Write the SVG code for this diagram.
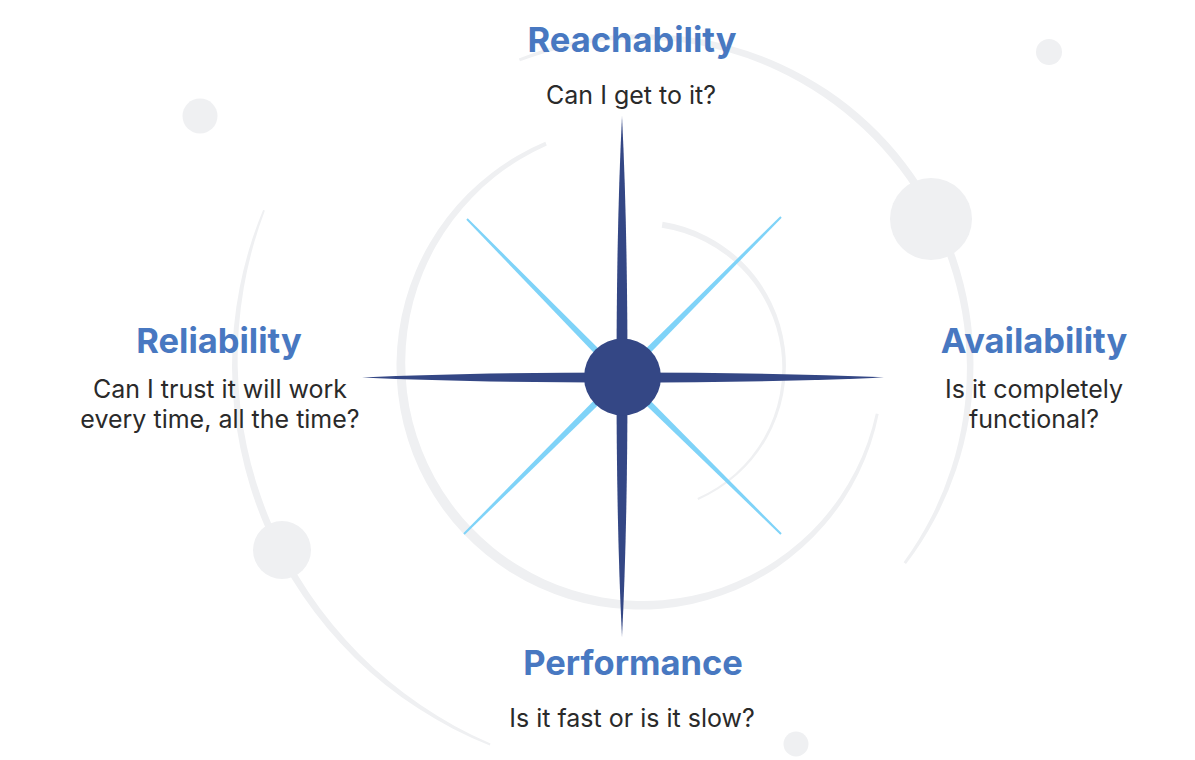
<svg xmlns="http://www.w3.org/2000/svg" width="1195" height="760" viewBox="0 0 1195 760">
<style>
.bg{fill:#eff0f2}
.spoke{fill:#7fd3f8}
.navy{fill:#344785}
.title{font-family:Inter,"Noto Sans","Liberation Sans",sans-serif;font-weight:700;font-size:34.5px;fill:#4878c1;text-anchor:middle}
.body{font-family:Inter,"Noto Sans","Liberation Sans",sans-serif;font-weight:400;font-size:25px;fill:#2a2a2a;text-anchor:middle}
</style>
<rect width="1195" height="760" fill="#ffffff"/>
<g id="background">
<path class="bg" d="M545.3,141.7 A243.5,243.5 0 1 0 878.7,414.1 L875.8,413.5 A238,238 0 1 1 546.8,145.4 Z"/>
<path class="bg" d="M662.6,221.8 A146,146 0 0 1 698.2,499.9 L697.4,498.1 A142,142 0 0 0 661.7,227.7 Z"/>
<path class="bg" d="M518.8,58.6 A330,330 0 0 1 906,564.1 L903.6,562.3 A328.9,328.9 0 0 0 520,61.3 Z"/>
<path class="bg" d="M263.1,209.9 A408,408 0 0 0 489.8,745.4 L490.5,743.5 A418.5,418.5 0 0 1 264.9,210.6 Z"/>
<circle class="bg" cx="931" cy="219" r="41"/>
<circle class="bg" cx="1049" cy="52" r="13"/>
<circle class="bg" cx="200" cy="116" r="17.5"/>
<circle class="bg" cx="282" cy="550" r="29"/>
<circle class="bg" cx="796" cy="744" r="12.5"/>
</g>
<g id="connectors">
<polygon class="spoke" points="624.5,379.5 781.7,217.7 780.3,216.3 619.5,374.5"/>
<polygon class="spoke" points="624.5,374.5 467.7,218.3 466.3,219.7 619.5,379.5"/>
<polygon class="spoke" points="624.5,379.5 464.7,534.7 463.3,533.3 619.5,374.5"/>
<polygon class="spoke" points="619.5,379.5 780.3,534.7 781.7,533.3 624.5,374.5"/>
<path class="navy" d="M622,116 Q627.5,226 627.5,377 Q627.5,528 622,637 Q616.5,528 616.5,377 Q616.5,226 622,116 Z"/>
<path class="navy" d="M362,377.5 Q471,372.5 622,372.5 Q774,372.5 884,377.5 Q774,382.5 622,382.5 Q471,382.5 362,377.5 Z"/>
</g>
<g id="hub">
<circle class="navy" cx="622.5" cy="377" r="38.5"/>
</g>
<g id="reachability">
<text class="title" x="632" y="52">Reachability</text>
<text class="body" x="631" y="104">Can I get to it?</text>
</g>
<g id="reliability">
<text class="title" x="219" y="353">Reliability</text>
<text class="body" x="220" y="398">Can I trust it will work</text>
<text class="body" x="220" y="428">every time, all the time?</text>
</g>
<g id="availability">
<text class="title" x="1034" y="353">Availability</text>
<text class="body" x="1034" y="398">Is it completely</text>
<text class="body" x="1034" y="428">functional?</text>
</g>
<g id="performance">
<text class="title" x="633" y="675">Performance</text>
<text class="body" x="632" y="727">Is it fast or is it slow?</text>
</g>
</svg>
